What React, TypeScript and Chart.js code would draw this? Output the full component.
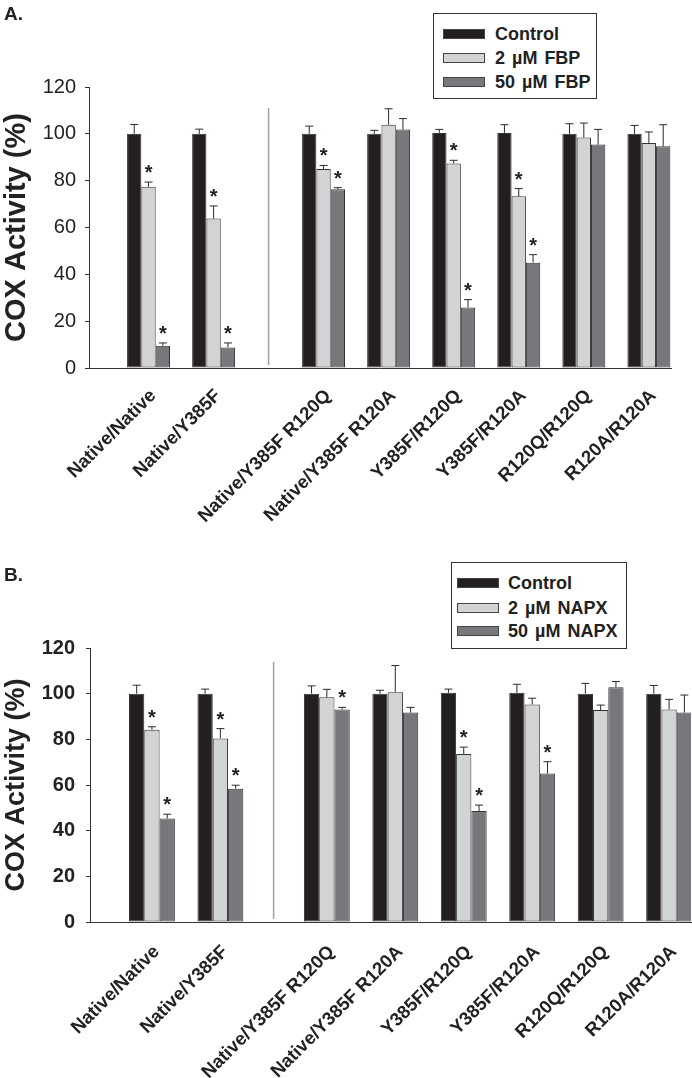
import React, { useEffect, useRef } from 'react';
import { Chart, registerables } from 'chart.js';

Chart.register(...registerables);

const FONT = '"Liberation Sans", Arial, Helvetica, sans-serif';

const categories = [
  'Native/Native',
  'Native/Y385F',
  'Native/Y385F R120Q',
  'Native/Y385F R120A',
  'Y385F/R120Q',
  'Y385F/R120A',
  'R120Q/R120Q',
  'R120A/R120A',
];

const yTicks = [0, 20, 40, 60, 80, 100, 120];

// Panel A (FBP)
const seriesA = ['Control', '2 µM FBP', '50 µM FBP'];
const controlA = [100, 100, 100, 100, 100.4, 100.4, 100, 100];
const fbp2 = [77.4, 63.8, 85, 103.9, 87.3, 73.3, 98.4, 96.1];
const fbp50 = [9.5, 8.8, 76.3, 101.8, 25.8, 45, 95.4, 94.7];
const controlAErr = [4, 2, 3.3, 1.5, 1.5, 3.5, 4.3, 3.6];
const fbp2Err = [2, 5.4, 1.5, 6.8, 1.4, 3.3, 6.2, 4.7];
const fbp50Err = [1.2, 1.9, 0.7, 4.7, 3.4, 3.4, 6.5, 9.2];
const controlASig = [0, 0, 0, 0, 0, 0, 0, 0];
const fbp2Sig = [1, 1, 1, 0, 1, 1, 0, 0];
const fbp50Sig = [1, 1, 1, 0, 1, 1, 0, 0];

// Panel B (NAPX)
const seriesB = ['Control', '2 µM NAPX', '50 µM NAPX'];
const controlB = [100, 100, 100, 100, 100.4, 100.4, 100, 100];
const napx2 = [84.2, 80.4, 98.4, 100.6, 73.6, 95.3, 92.8, 93.1];
const napx50 = [45.3, 58.4, 93.1, 91.7, 48.6, 65, 102.8, 91.7];
const controlBErr = [3.7, 2, 3.4, 1.5, 1.6, 3.7, 4.5, 3.6];
const napx2Err = [1.3, 4.3, 3.5, 11.7, 3, 2.7, 2.2, 4.4];
const napx50Err = [1.9, 1.5, 0.9, 2.3, 2.6, 5.2, 2.5, 7.7];
const controlBSig = [0, 0, 0, 0, 0, 0, 0, 0];
const napx2Sig = [1, 1, 0, 0, 1, 0, 0, 0];
const napx50Sig = [1, 1, 1, 0, 1, 1, 0, 0];

const colors = ['#231f20', '#d1d3d4', '#77787b'];

type PanelCfg = {
  series: string[];
  values: number[][];
  errors: number[][];
  sig: number[][];
  gap: number;
  xMin: number;
  xMaxPad: number;
  catPct: number;
  width: number;
  height: number;
  padTop: number;
  padRight: number;
  yWidth: number;
  xHeight: number;
  tickFont: any;
  titleSize: number;
  tickPad: number;
  sepTop: number;
  labelShift: number;
  labelPad: number;
};

function makeOverlay(cfg: PanelCfg, positions: number[]) {
  return {
    id: 'overlay',
    afterDatasetsDraw(chart: any) {
      const { ctx } = chart;
      const x = chart.scales.x;
      const y = chart.scales.y;
      ctx.save();
      // separator
      const sepX = x.getPixelForValue((positions[1] + positions[2]) / 2);
      ctx.strokeStyle = '#a0a0a0';
      ctx.lineWidth = 1.5;
      ctx.beginPath();
      ctx.moveTo(sepX, y.getPixelForValue(cfg.sepTop));
      ctx.lineTo(sepX, y.getPixelForValue(0) - 3);
      ctx.stroke();
      // error bars and asterisks
      chart.data.datasets.forEach((ds: any, di: number) => {
        const meta = chart.getDatasetMeta(di);
        meta.data.forEach((bar: any, i: number) => {
          const v = cfg.values[di][i];
          const e = cfg.errors[di][i];
          const top = y.getPixelForValue(v + e);
          const bx = bar.x;
          ctx.strokeStyle = '#2a2a2a';
          ctx.lineWidth = 1;
          ctx.beginPath();
          ctx.moveTo(bx, bar.y);
          ctx.lineTo(bx, top);
          ctx.moveTo(bx - 4, top);
          ctx.lineTo(bx + 4, top);
          ctx.stroke();
          if (cfg.sig[di][i]) {
            ctx.fillStyle = '#222';
            ctx.font = `bold 20px ${FONT}`;
            ctx.textAlign = 'center';
            ctx.textBaseline = 'alphabetic';
            ctx.fillText('*', bx, top - 3);
          }
        });
      });
      ctx.restore();
    },
  };
}

function Panel({ cfg }: { cfg: PanelCfg }) {
  const ref = useRef<HTMLCanvasElement | null>(null);
  useEffect(() => {
    if (!ref.current) return;
    const positions = categories.map((_, i) => (i < 2 ? i : i + cfg.gap));
    const xMax = positions[positions.length - 1] + cfg.xMaxPad;
    const chart = new Chart(ref.current, {
      type: 'bar',
      data: {
        datasets: cfg.series.map((name, di) => ({
          label: name,
          data: positions.map((p, i) => ({ x: p, y: cfg.values[di][i] })),
          backgroundColor: colors[di],
          borderColor: '#333333',
          borderWidth: 1,
          borderSkipped: false,
          categoryPercentage: cfg.catPct,
          barPercentage: 1,
        })),
      },
      options: {
        responsive: false,
        animation: false,
        devicePixelRatio: 1,
        events: [],
        layout: { padding: { top: cfg.padTop, right: cfg.padRight, left: 0, bottom: 0 } },
        plugins: { legend: { display: false }, tooltip: { enabled: false } },
        scales: {
          x: {
            type: 'linear',
            offset: false,
            min: cfg.xMin,
            max: xMax,
            afterBuildTicks: (axis: any) => {
              axis.ticks = positions.map((p) => ({ value: p + cfg.labelShift }));
            },
            afterFit: (s: any) => {
              s.height = cfg.xHeight;
              s.paddingLeft = 0;
              s.paddingRight = 0;
            },
            ticks: {
              autoSkip: false,
              minRotation: 45,
              maxRotation: 45,
              padding: cfg.labelPad,
              color: '#222',
              font: { family: FONT, size: 18.5, weight: 'bold' },
              callback: (_v: any, idx: number) => categories[idx],
            },
            grid: { display: false, offset: false },
            border: { display: true, color: '#333', width: 1 },
          },
          y: {
            min: 0,
            max: 120,
            afterBuildTicks: (axis: any) => {
              axis.ticks = yTicks.map((v) => ({ value: v }));
            },
            afterFit: (s: any) => {
              s.width = cfg.yWidth;
            },
            ticks: {
              padding: cfg.tickPad,
              color: '#222',
              font: cfg.tickFont,
            },
            grid: { drawOnChartArea: false, drawTicks: true, tickLength: 4, color: '#333' },
            border: { display: true, color: '#333', width: 1 },
            title: {
              display: true,
              text: 'COX Activity (%)',
              color: '#222',
              font: { family: FONT, size: cfg.titleSize, weight: 'bold' },
              padding: { top: 0, bottom: 0 },
            },
          },
        },
      } as any,
      plugins: [makeOverlay(cfg, positions)],
    });
    return () => chart.destroy();
  }, [cfg]);
  return <canvas ref={ref} width={cfg.width} height={cfg.height} style={{ display: 'block' }} />;
}

const cfgA: PanelCfg = {
  series: seriesA,
  values: [controlA, fbp2, fbp50],
  errors: [controlAErr, fbp2Err, fbp50Err],
  sig: [controlASig, fbp2Sig, fbp50Sig],
  gap: 0.69,
  xMin: -0.915,
  xMaxPad: 0.34,
  catPct: 0.66,
  width: 692,
  height: 540,
  padTop: 87,
  padRight: 21,
  yWidth: 89,
  xHeight: 172,
  tickFont: { family: FONT, size: 20, weight: 'normal' },
  titleSize: 29,
  tickPad: 9,
  sepTop: 111,
  labelShift: 0.07,
  labelPad: 9,
};

const cfgB: PanelCfg = {
  series: seriesB,
  values: [controlB, napx2, napx50],
  errors: [controlBErr, napx2Err, napx50Err],
  sig: [controlBSig, napx2Sig, napx50Sig],
  gap: 0.555,
  xMin: -0.905,
  xMaxPad: 0.32,
  catPct: 0.67,
  width: 692,
  height: 538,
  padTop: 108,
  padRight: 1,
  yWidth: 90,
  xHeight: 156,
  tickFont: { family: FONT, size: 20, weight: 'bold' },
  titleSize: 27,
  tickPad: 11,
  sepTop: 114,
  labelShift: 0.07,
  labelPad: 11,
};

function Legend({ series, left, top, width, height, rows, swLeft, textLeft, fontSize }: any) {
  return (
    <div
      style={{
        position: 'absolute',
        left,
        top,
        width,
        height,
        border: '1.5px solid #333',
        boxSizing: 'border-box',
        background: '#fff',
      }}
    >
      {series.map((s: string, i: number) => (
        <React.Fragment key={s}>
          <div
            style={{
              position: 'absolute',
              left: swLeft,
              top: rows[i] - 5,
              width: 42,
              height: 10,
              background: colors[i],
              border: '1px solid #444',
              boxSizing: 'border-box',
            }}
          />
          <div
            style={{
              position: 'absolute',
              left: textLeft,
              top: rows[i] - fontSize / 2,
              fontSize,
              lineHeight: `${fontSize}px`,
              fontWeight: 'bold',
              color: '#222',
              whiteSpace: 'nowrap',
              wordSpacing: 2,
            }}
          >
            {s}
          </div>
        </React.Fragment>
      ))}
    </div>
  );
}

export default function App() {
  useEffect(() => {
    document.body.style.margin = '0';
  }, []);
  return (
    <div style={{ position: 'relative', width: 692, height: 1078, fontFamily: FONT, background: '#fff', overflow: 'hidden' }}>
      <div style={{ position: 'absolute', left: 0, top: 0 }}>
        <Panel cfg={cfgA} />
      </div>
      <div style={{ position: 'absolute', left: 0, top: 540 }}>
        <Panel cfg={cfgB} />
      </div>
      <div style={{ position: 'absolute', left: 4, top: 4, fontSize: 19, lineHeight: '19px', fontWeight: 'bold', color: '#222' }}>A.</div>
      <div style={{ position: 'absolute', left: 4, top: 565, fontSize: 19, lineHeight: '19px', fontWeight: 'bold', color: '#222' }}>B.</div>
      <Legend series={seriesA} left={433} top={13} width={164} height={86} rows={[20, 44, 68]} swLeft={9} textLeft={61} fontSize={18} />
      <Legend series={seriesB} left={451} top={562} width={176} height={87} rows={[20, 45, 68]} swLeft={5} textLeft={56} fontSize={18} />
    </div>
  );
}
